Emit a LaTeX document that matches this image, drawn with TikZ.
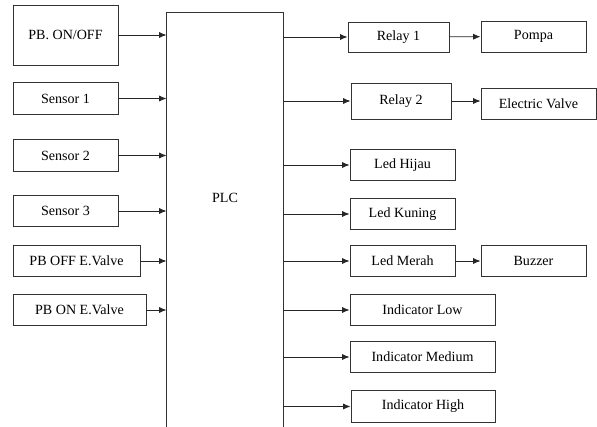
\documentclass[tikz,border=0pt]{standalone}
\usepackage{fontspec}
\setmainfont{Liberation Serif}
\newfontfamily\diagfont{Liberation Serif}
\usepackage{tikz}
\usetikzlibrary{arrows.meta, positioning}

\begin{document}
\begin{tikzpicture}[x=0.03cm, y=-0.03cm,
      font=\diagfont\fontsize{12}{14}\selectfont,
      box/.style={rectangle, draw=black!80, line width=0.8pt, inner sep=0pt,
        minimum width=3.15cm, minimum height=0.95cm},
      arr/.style={-{Latex[length=2.2mm, width=1.8mm]}, black!85, line width=0.7pt}]
    \clip (0,0) rectangle (597,427);
    % inputs
    \node[box, minimum height=1.8cm] (pb) at (65.5,35) {PB. ON/OFF};
    \node[box] (sen1) at (65.5,98.5) {Sensor 1};
    \node[box] (sen2) at (65.5,155.5) {Sensor 2};
    \node[box] (sen3) at (65.5,211) {Sensor 3};
    \node[box, minimum width=3.81cm] (pboff) at (76.5,261) {PB OFF E.Valve};
    \node[box, minimum width=3.99cm] (pbon) at (79.5,310) {PB ON E.Valve};
    % PLC (runs past the lower edge)
    \node[box, draw=none, minimum width=3.48cm, minimum height=11.1cm] (plc) at (225,198) {PLC};
    \draw[line width=0.8pt, black!80] ([yshift=-2cm]plc.south west) |- (plc.north east)
      -- ([yshift=-2cm]plc.south east);
    % outputs
    \node[box, minimum width=3.03cm, minimum height=0.9cm] (rly1) at (398.5,37) {Relay 1};
    \node[box, minimum height=0.93cm] (pompa) at (533.5,36.5) {Pompa};
    \node[box, minimum width=3cm, minimum height=1.08cm] (rly2) at (401,101) {Relay 2};
    \node[box, minimum width=3.45cm, minimum height=0.93cm] (valve) at (538.5,103.5) {Electric Valve};
    \node[box] (hijau) at (402.5,165) {Led Hijau};
    \node[box] (kuning) at (402.5,214) {Led Kuning};
    \node[box] (merah) at (402.5,261) {Led Merah};
    \node[box] (buzzer) at (533.5,261) {Buzzer};
    \node[box, minimum width=4.35cm] (low) at (422.5,310) {Indicator Low};
    \node[box, minimum width=4.35cm] (med) at (422.5,357) {Indicator Medium};
    \node[box, minimum width=4.32cm] (high) at (423,406.5) {Indicator High};
    % connectors
    \foreach \n in {pb, sen1, sen2, sen3, pboff, pbon}
      \draw[arr] (\n.east) -- (\n.east -| plc.west);
    \foreach \n in {rly1, rly2, hijau, kuning, merah, low, med, high}
      \draw[arr] (\n.west -| plc.east) -- (\n.west);
    \draw[arr] (rly1) -- (pompa);
    \draw[arr] (rly2.east) -- (rly2.east -| valve.west);
    \draw[arr] (merah) -- (buzzer);
  \end{tikzpicture}
\end{document}
